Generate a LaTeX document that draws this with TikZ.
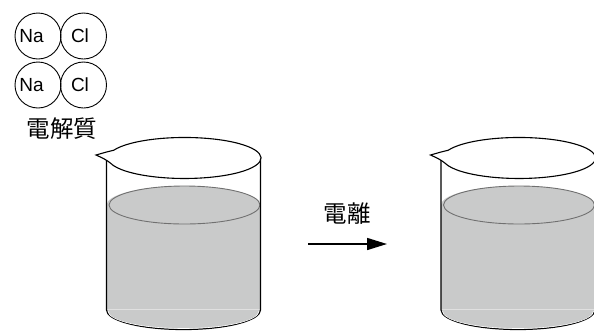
\documentclass[tikz,border=0pt]{standalone}
\usepackage{fontspec}
\setmainfont{Liberation Sans}
\newfontfamily\cjk{Noto Sans CJK JP}
\usetikzlibrary{arrows.meta}
\definecolor{liquid}{RGB}{201,202,202}
\definecolor{surface}{RGB}{112,112,112}
\tikzset{
  atom/.style={draw=black, line width=0.9pt, circle, minimum size=46pt, inner sep=0pt},
  atomlabel/.style={font=\fontsize{19pt}{19pt}\selectfont, inner sep=0pt},
  jlabel/.style={font=\cjk\fontsize{23.5pt}{23.5pt}\selectfont, inner sep=0pt},
  wall/.style={draw=black, line width=1.2pt},
  rim/.style={draw=black, line width=1.1pt, fill=white},
  surfaceline/.style={draw=surface, line width=0.9pt},
  react/.style={draw=black, line width=1.5pt, -{Triangle[length=20pt,width=12pt]}},
}
% one beaker of liquid, drawn with its left wall at x = #1
\newcommand{\drawbeaker}[1]{%
  \begin{scope}[xshift=#1pt]
    % liquid body
    \fill[liquid] (0,205) -- (0,310) arc[start angle=180, end angle=0, x radius=77, y radius=19.5]
      -- (154,205) arc[start angle=0, end angle=-180, x radius=77, y radius=19] -- cycle;
    % liquid surface
    \draw[surfaceline] (78,205) ellipse[x radius=75.5, y radius=19];
    % faint line at the top of the rounded bottom
    \draw[white!88!black, line width=0.6pt] (0.5,309) -- (153.5,309);
    % walls and bottom
    \draw[wall] (0,159) -- (0,310) arc[start angle=180, end angle=0, x radius=77, y radius=19.5] -- (154,157);
    \draw[white, line width=0.6pt] (1.5,311) arc[start angle=180, end angle=0, x radius=75.5, y radius=17.5];
    % rim with pouring spout
    \draw[rim] (-10.5,155) .. controls (-3.5,153) and (1.5,151.5) .. (7.1,150.3)
      arc[start angle=202, end angle=525, x radius=76.5, y radius=20.5]
      .. controls (0.5,160) and (-5,157.5) .. cycle;
  \end{scope}}
\begin{document}
\begin{tikzpicture}[x=1pt, y=-1pt]
  \useasboundingbox (0,0) rectangle (594,330);
  \clip (0,0) rectangle (594,330);

  % sodium chloride units
  \node[atom] (na1) at (38,36) {};
  \node[atom] (cl1) at (83.5,36) {};
  \node[atom] (na2) at (38,85) {};
  \node[atom] (cl2) at (83.5,85) {};
  \node[atomlabel] (na1t) at (31.5,36) {Na};
  \node[atomlabel] (cl1t) at (80,36) {Cl};
  \node[atomlabel] (na2t) at (31.5,85) {Na};
  \node[atomlabel] (cl2t) at (80,85) {Cl};
  \node[jlabel] (electrolyte) at (62,129) {電解質};

  % beakers
  \drawbeaker{106.5}
  \drawbeaker{441}

  % dissociation arrow
  \coordinate (from) at (308,244);
  \coordinate (to) at (387,244);
  \draw[react] (from) -- (to);
  \node[jlabel] (ionize) at (347,214) {電離};
\end{tikzpicture}
\end{document}
